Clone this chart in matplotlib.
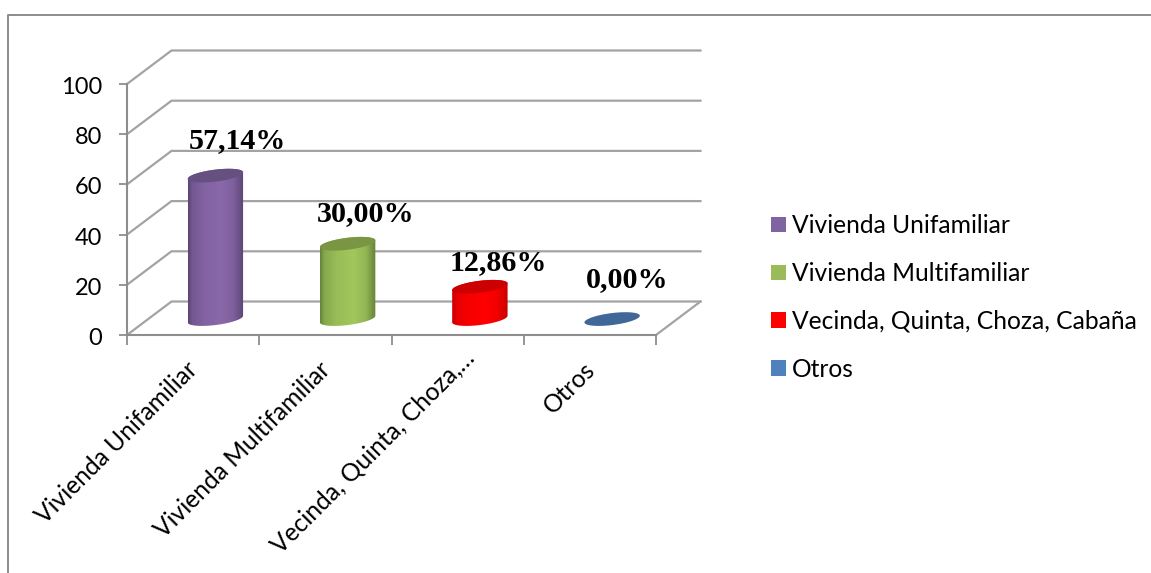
import numpy as np
import matplotlib
matplotlib.use("Agg")
import matplotlib.pyplot as plt
from matplotlib.patches import Polygon, Patch
from matplotlib.lines import Line2D
from matplotlib.colors import LinearSegmentedColormap, to_rgb
from matplotlib.transforms import ScaledTranslation

# ---- data
categories = ["Vivienda Unifamiliar", "Vivienda Multifamiliar",
              "Vecinda, Quinta, Choza, Cabaña", "Otros"]
axis_labels = ["Vivienda Unifamiliar", "Vivienda Multifamiliar",
               "Vecinda, Quinta, Choza,…", "Otros"]
values = [57.14, 30.00, 12.86, 0.00]
value_labels = ["57,14%", "30,00%", "12,86%", "0,00%"]
y_ticks = [0, 20, 40, 60, 80, 100]

# ---- style
W, H = 1151, 573
DPI = 100
PX = 72 / DPI
GRID = "#a3a3a3"
AXIS = "#8e8e8e"
legend_colors = ["#8064a2", "#9bbb59", "#ff0000", "#4f81bd"]
edge_colors = ["#5a4575", "#66833a", "#c80000", "#3f6797"]
mid_colors = ["#8a68aa", "#a2c75c", "#ff0000", "#3f6797"]
top_colors = ["#65507f", "#7a9642", "#cc0000", "#3f6797"]
label_shift = [(22, 28), (18, 23), (18, 17), (15, 32)]  # px from bar top
xlabel_shift = [(-7, -23), (-7, -23), (5, -11), (-7, -23)]  # px from tick

plt.rcParams["font.family"] = ["Lato", "DejaVu Sans"]
FS_Y, FS_X, FS_LEG = 17.0, 17.7, 17.7

fig = plt.figure(figsize=(W / DPI, H / DPI), dpi=DPI, facecolor="white")
L, R, T, B = 127, 656, 84, 335
ax = fig.add_axes([L / W, (H - B) / H, (R - L) / W, (B - T) / H])
ax.set_xlim(0, len(values))
ax.set_ylim(0, 100)
ax.patch.set_visible(False)

ux = (R - L) / len(values)   # px per category
uy = (B - T) / 100           # px per value unit
DX, DY = 44.5, 33.5          # depth of the 3-D box, px


def px2data(dx, dy):
    return dx / ux, dy / uy


def shifted(artist, dx_px, dy_px):
    artist.set_transform(artist.get_transform()
                         + ScaledTranslation(dx_px / DPI, dy_px / DPI, fig.dpi_scale_trans))


# outer border of the picture
fig.add_artist(Line2D([8 / W, 8 / W, 1.0], [0, 1 - 14.5 / H, 1 - 14.5 / H],
                      color="#8c8c8c", lw=1.4, transform=fig.transFigure))

# ---- walls
ddx, ddy = px2data(DX, DY)
n = len(values)
for v in y_ticks:
    ax.plot([0, ddx, n + ddx], [v, v + ddy, v + ddy], color=GRID, lw=1.6,
            clip_on=False, zorder=1, solid_joinstyle="miter")
ax.plot([n, n + ddx], [0, ddy], color=GRID, lw=1.6, clip_on=False, zorder=1)

# ---- axes
for s in ("top", "right"):
    ax.spines[s].set_visible(False)
for s in ("left", "bottom"):
    ax.spines[s].set_color(AXIS)
    ax.spines[s].set_linewidth(1.5)
    ax.spines[s].set_zorder(2)
ax.set_yticks(y_ticks)
ax.tick_params(axis="y", length=8 * PX, width=1.3, color=AXIS, pad=12,
               labelsize=FS_Y, labelcolor="black")
for t in ax.get_yticklabels():
    shifted(t, 0, -1.5)
ax.set_xticks(np.arange(n + 1))
ax.set_xticklabels([])
ax.tick_params(axis="x", which="major", length=10 * PX, width=1.3, color=AXIS)
ax.set_xticks(np.arange(n) + 0.5, minor=True)
ax.set_xticklabels(axis_labels, minor=True, rotation=45, ha="right", va="top",
                   rotation_mode="anchor", fontsize=FS_X, color="black")
ax.tick_params(axis="x", which="minor", length=0, pad=0)
for t, (sx, sy) in zip(ax.get_xticklabels(minor=True), xlabel_shift):
    shifted(t, sx, sy)

# ---- cylinders
A, Bb, SK = 27.7, 6.0, 0.12     # ellipse half axes (px), tilt
tt = np.linspace(0, 2 * np.pi, 121)
base_dx, base_dy = px2data(DX / 2, DY / 2 - 0.8)
bar_centres = np.arange(n) + 0.5 + base_dx


def ellipse(cx, cy, t):
    ex, ey = px2data(A * np.cos(t), Bb * np.sin(t) + SK * A * np.cos(t))
    return np.column_stack([cx + ex, cy + ey])


def blend(c1, c2, f):
    a, b = np.array(to_rgb(c1)), np.array(to_rgb(c2))
    return tuple(a + (b - a) * f)


for i, (x, v) in enumerate(zip(bar_centres, values)):
    top_y = base_dy + v
    if v > 0:
        low = ellipse(x, base_dy, np.linspace(np.pi, 2 * np.pi, 60))
        up = ellipse(x, top_y, np.linspace(0, np.pi, 60))
        poly = Polygon(np.vstack([low, up]), closed=True, transform=ax.transData,
                       facecolor="none", edgecolor="none")
        ax.add_patch(poly)
        e, m = edge_colors[i], mid_colors[i]
        cmap = LinearSegmentedColormap.from_list(
            "c", [(0, e), (0.08, blend(e, m, 0.55)), (0.3, blend(e, m, 0.85)),
                  (0.6, m), (0.82, blend(e, m, 0.75)), (1, e)])
        hw = A / ux
        im = ax.imshow(np.linspace(0, 1, 128).reshape(1, -1), cmap=cmap, aspect="auto",
                       extent=[x - hw, x + hw, base_dy - 12, top_y + 12],
                       zorder=3, clip_on=True, interpolation="bilinear")
        im.set_clip_path(poly)
    ax.add_patch(Polygon(ellipse(x, top_y, tt), closed=True, facecolor=top_colors[i],
                         edgecolor="none", zorder=4, clip_on=False))
    sx, sy = label_shift[i]
    ax.annotate(value_labels[i], (x, top_y), xytext=(sx * PX, sy * PX),
                textcoords="offset points", ha="center", va="baseline", zorder=6,
                family=["Liberation Serif"], fontweight="bold", fontsize=21.6,
                color="black", annotation_clip=False)
ax.set_xlim(0, n)
ax.set_ylim(0, 100)

# ---- legend
handles = [Patch(facecolor=c, edgecolor="none", label=l)
           for c, l in zip(legend_colors, categories)]
leg = fig.legend(handles=handles, loc="center left",
                 bbox_to_anchor=(771 / W, 1 - 297.5 / H), frameon=False, fontsize=FS_LEG,
                 handlelength=0.61, handleheight=0.61, handletextpad=0.25,
                 labelspacing=1.01, borderpad=0, borderaxespad=0)

fig.savefig("out.png", dpi=DPI)
